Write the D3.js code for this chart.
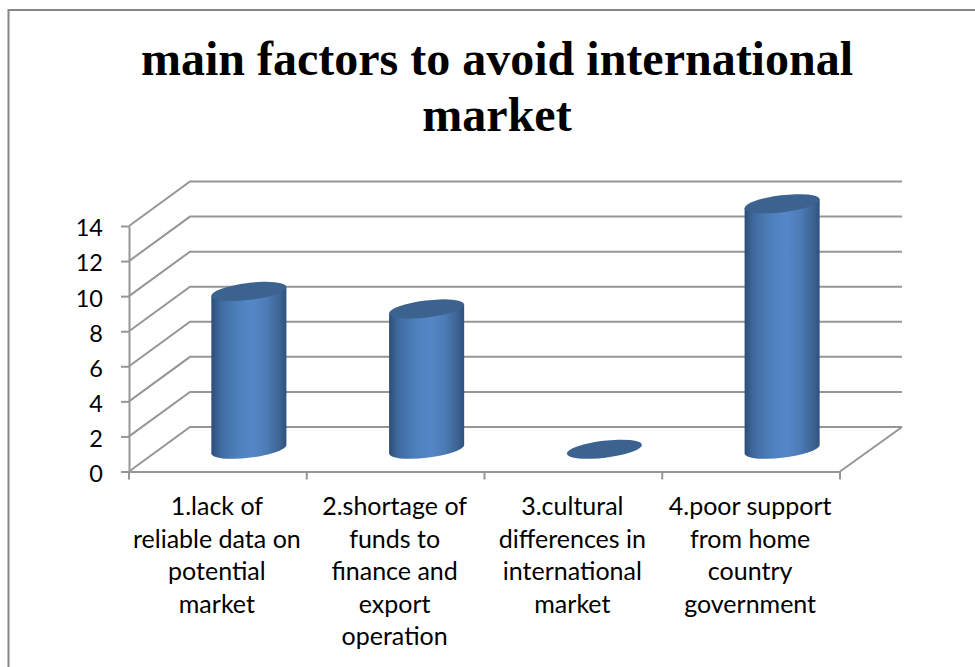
<!DOCTYPE html>
<html><head><meta charset="utf-8">
<style>html,body{margin:0;padding:0;background:#fff;overflow:hidden}svg{display:block}</style>
<script src="https://d3js.org/d3.v7.min.js"></script></head>
<body><svg id="c" width="975" height="667"></svg>
<script>
const titleLines = ["main factors to avoid international", "market"];
const categories = ["c1", "c2", "c3", "c4"];
const categoryLines = [
  ["1.lack of", "reliable data on", "potential", "market"],
  ["2.shortage of", "funds to", "finance and", "export", "operation"],
  ["3.cultural", "differences in", "international", "market"],
  ["4.poor support", "from home", "country", "government"]
];
const values = [9, 8, 0, 14];
const yTicks = [0, 2, 4, 6, 8, 10, 12, 14];

const svg = d3.select("#c");
const x = d3.scaleBand().domain(categories).range([129, 840]).paddingInner(0).paddingOuter(0);
const y = d3.scaleLinear().domain([0, 14]).range([471.5, 226]);
const depth = {dx: 61, dy: -44.5};
const grid = "#969696", gw = 2;

// frame
svg.append("path").attr("d", "M975,10H8.5V667").attr("fill", "none").attr("stroke", "#868686").attr("stroke-width", 2);

// title
svg.append("g").selectAll("text").data(titleLines).join("text")
  .attr("x", 497).attr("y", (d, i) => 75 + i * 55.5).attr("text-anchor", "middle")
  .attr("font-family", "'Liberation Serif'").attr("font-weight", "bold").attr("font-size", 48)
  .attr("fill", "#000").text(d => d);

// gradients
const defs = svg.append("defs");
const g = defs.append("linearGradient").attr("id", "cyl");
[[0, "#2b4d78"], [.12, "#3f6a9f"], [.35, "#4d80bc"], [.55, "#5587c8"], [.75, "#4c7ab4"], [.92, "#3c6290"], [1, "#2f5280"]]
  .forEach(s => g.append("stop").attr("offset", s[0]).attr("stop-color", s[1]));

// walls and floor
const wall = svg.append("g").attr("fill", "none").attr("stroke", grid).attr("stroke-width", gw);
const backRight = x.range()[1] + depth.dx + 1;
wall.selectAll("path.g").data(yTicks).join("path").attr("class", "g")
  .attr("d", d => `M${x.range()[0]},${y(d)}L${x.range()[0] + depth.dx},${y(d) + depth.dy}H${backRight}`);
wall.append("path")
  .attr("d", `M${x.range()[1]},${y(0)}L${backRight},${y(0) + depth.dy}`);

// axes
const axY = svg.append("g").attr("transform", `translate(${x.range()[0]},0)`)
  .call(d3.axisLeft(y).tickValues(yTicks).tickSize(8).tickSizeOuter(0).tickPadding(18));
const axX = svg.append("g").attr("transform", `translate(0,${y(0)})`)
  .call(d3.axisBottom(x).tickValues([]).tickSizeOuter(0));
axX.selectAll("g.v").data(d3.range(categories.length + 1)).join("line")
  .attr("x1", i => x.range()[0] + i * x.step()).attr("x2", i => x.range()[0] + i * x.step())
  .attr("y1", 0).attr("y2", 8).attr("stroke", grid).attr("stroke-width", gw);
[axY, axX].forEach(a => { a.selectAll("path.domain,.tick line").attr("stroke", grid).attr("stroke-width", gw); });
axY.selectAll("text").attr("font-family", "Lato").attr("font-size", 23.5).attr("fill", "#000").attr("dy", "0.42em");

// category labels
svg.append("g").selectAll("text").data(categoryLines).join("text")
  .attr("text-anchor", "middle").attr("font-family", "Lato").attr("font-size", 25).attr("fill", "#000")
  .each(function(lines, i) {
    d3.select(this).selectAll("tspan").data(lines).join("tspan")
      .attr("x", x(categories[i]) + x.bandwidth() / 2 - 1).attr("y", (d, j) => 515 + j * 32.5).text(d => d);
  });

// cylinders
const a = 37.8, b = 8.5, rot = -7 * Math.PI / 180;
const t0 = Math.atan2(-b * Math.sin(rot), a * Math.cos(rot));
const ex = a * Math.cos(t0) * Math.cos(rot) - b * Math.sin(t0) * Math.sin(rot);
const ey = a * Math.cos(t0) * Math.sin(rot) + b * Math.sin(t0) * Math.cos(rot);
const cx = c => x(c) + x.bandwidth() / 2 + depth.dx / 2 + 0.5;
const by = v => y(v) + depth.dy / 2;
const bars = svg.append("g").selectAll("g").data(categories.map((c, i) => ({c, v: values[i]}))).join("g");
bars.filter(d => d.v > 0).append("path").attr("fill", "url(#cyl)")
  .attr("d", d => {
    const X = cx(d.c), T = by(d.v), B = by(0);
    return `M${X - ex},${T - ey}L${X - ex},${B - ey}`
      + `A${a},${b} -7 0 0 ${X + ex},${B + ey}`
      + `L${X + ex},${T + ey}Z`;
  });
bars.append("ellipse").attr("fill", "#3c628f")
  .attr("rx", a).attr("ry", b)
  .attr("transform", d => `translate(${cx(d.c)},${by(d.v)}) rotate(-7)`);
</script></body></html>
